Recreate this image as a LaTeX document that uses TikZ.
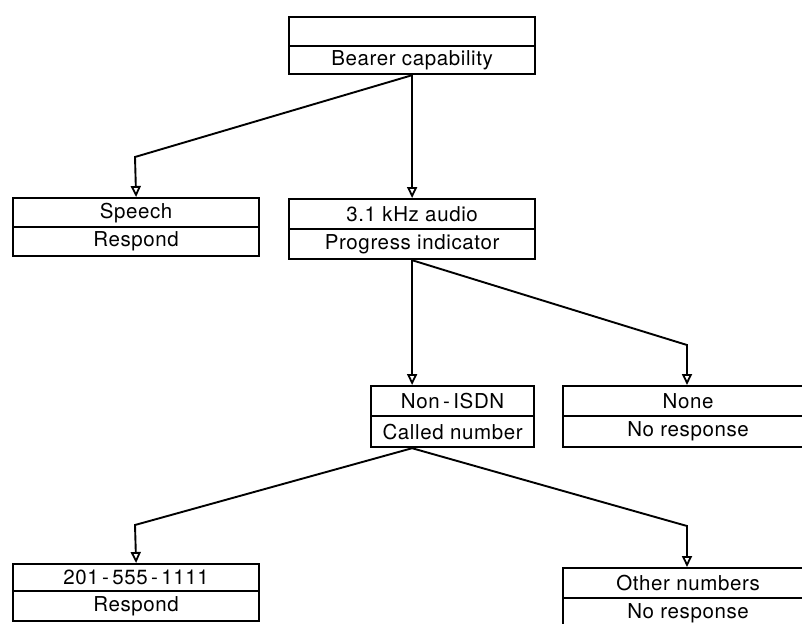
\documentclass[tikz,border=0pt]{standalone}
\usepackage{fontspec}
\setmainfont[LetterSpace=3]{TeX Gyre Heros}
\usetikzlibrary{arrows.meta}
\begin{document}
\begin{tikzpicture}[x=1pt,y=-1pt,
  cell/.style={draw, line width=2.2pt, anchor=north west, inner sep=0pt,
    font=\fontsize{20.5}{22}\selectfont},
  link/.style={line width=1.9pt},
  arr/.style={link, -{Triangle[open, length=11pt, width=10pt, line width=1.8pt]}}]
\useasboundingbox (0,0) rectangle (802,623);
\clip (0,0) rectangle (802,623);
\fill[white] (0,0) rectangle (802,623);

% root: bearer capability
\node[cell, minimum width=246pt, minimum height=29pt] (bcT) at (288,16) {};
\node[cell, minimum width=246pt, minimum height=28pt] (bcB) at (288,45) {Bearer capability};

% first level
\node[cell, minimum width=246pt, minimum height=29pt] (spT) at (12,197) {Speech};
\node[cell, minimum width=246pt, minimum height=29pt] (spB) at (12,226) {Respond};
\node[cell, minimum width=246pt, minimum height=30pt] (auT) at (288,198) {3.1 kHz audio};
\node[cell, minimum width=246pt, minimum height=30pt] (auB) at (288,228) {Progress indicator};

% second level
\node[cell, minimum width=163pt, minimum height=30pt] (niT) at (370,385) {Non\,-\,ISDN};
\node[cell, minimum width=163pt, minimum height=31pt] (niB) at (370,415) {Called number};
\node[cell, minimum width=250pt, minimum height=30pt] (noT) at (562,385) {None};
\node[cell, minimum width=250pt, minimum height=31pt] (noB) at (562,415) {No response};

% third level
\node[cell, minimum width=246pt, minimum height=27pt] (nbT) at (12,563) {201\,-\,555\,-\,1111};
\node[cell, minimum width=246pt, minimum height=30pt] (nbB) at (12,590) {Respond};
\node[cell, minimum width=250pt, minimum height=30pt] (otT) at (562,567) {Other numbers};
\node[cell, minimum width=250pt, minimum height=30pt] (otB) at (562,597) {No response};

% bend points of the connectors
\coordinate (k1) at (135,157);
\coordinate (k2) at (687,345);
\coordinate (hub) at (auB.south |- niB.south);
\coordinate (k3) at (135,525);
\coordinate (k4) at (687,526);

% connectors
\draw[arr] (bcB.south) -- (k1) -- (spT.north);
\draw[arr] (bcB.south) -- (auT.north);
\draw[arr] (auB.south) -- (auB.south |- niT.north);
\draw[arr] (auB.south) -- (k2) -- (k2 |- noT.north);
\draw[arr] (hub) -- (k3) -- (nbT.north);
\draw[arr] (hub) -- (k4) -- (k4 |- otT.north);
\end{tikzpicture}
\end{document}
